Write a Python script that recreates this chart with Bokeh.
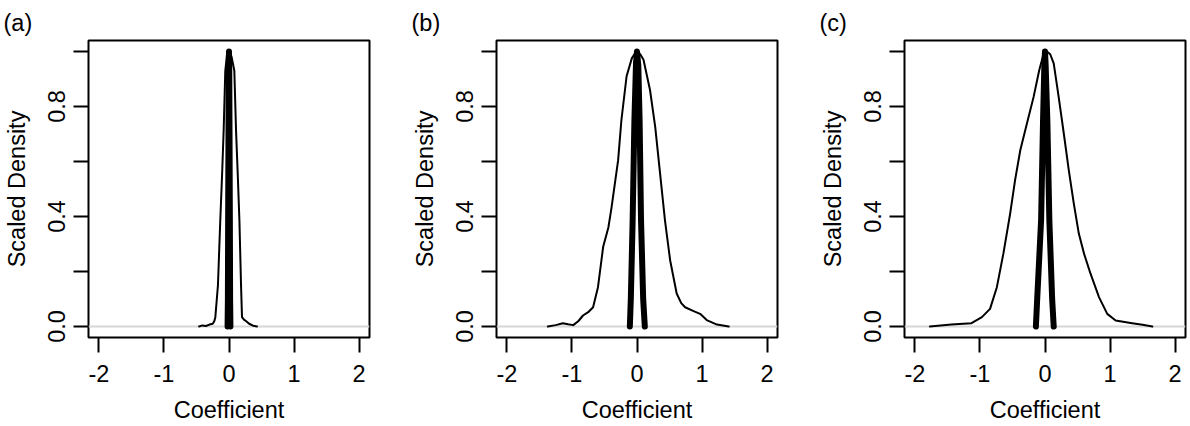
import math
from bokeh.plotting import figure
from bokeh.layouts import row
from bokeh.models import FixedTicker, Title, Span
from bokeh.embed import file_html
from bokeh.resources import INLINE

# ---- data ----
panel_labels = ["(a)", "(b)", "(c)"]
x_ticks = [-2, -1, 0, 1, 2]
y_ticks = [0, 0.2, 0.4, 0.6, 0.8, 1]
y_tick_labels = {0: "0.0", 0.2: "", 0.4: "0.4", 0.6: "", 0.8: "0.8", 1: ""}
x_tick_labels = {-2: "-2", -1: "-1", 0: "0", 1: "1", 2: "2"}

# panel (a)
a_wide_x = [-0.46, -0.41, -0.355, -0.30, -0.25, -0.225, -0.21, -0.17, -0.134, -0.105, -0.082, -0.057,
            -0.03, 0.01, 0.04, 0.082, 0.108, 0.135, 0.16, 0.185, 0.2, 0.23, 0.26, 0.31, 0.37, 0.43]
a_wide_y = [0, 0.004, 0.002, 0.007, 0.01, 0.02, 0.034, 0.15, 0.386, 0.56, 0.714, 0.93,
            0.99, 1.0, 0.98, 0.93, 0.714, 0.55, 0.386, 0.15, 0.034, 0.025, 0.02, 0.01, 0.003, 0]
a_narrow_x = [-0.022, -0.017, -0.013, -0.008, -0.004, 0, 0.004, 0.008, 0.013, 0.017, 0.022]
a_narrow_y = [0, 0.1, 0.4, 0.7, 0.93, 1.0, 0.93, 0.7, 0.4, 0.1, 0]

# panel (b)
b_wide_x = [-1.37, -1.25, -1.14, -1.06, -0.98, -0.9, -0.83, -0.75, -0.675, -0.6, -0.52, -0.44, -0.39,
            -0.29, -0.24, -0.16, -0.08, -0.04, 0.0, 0.05, 0.1, 0.2, 0.28, 0.355, 0.43, 0.51, 0.61, 0.68,
            0.74, 0.87, 0.97, 1.08, 1.23, 1.41]
b_wide_y = [0, 0.005, 0.012, 0.008, 0.005, 0.02, 0.04, 0.052, 0.07, 0.143, 0.29, 0.36, 0.435,
            0.605, 0.75, 0.91, 0.975, 0.99, 1.0, 0.99, 0.97, 0.86, 0.726, 0.556, 0.386, 0.24, 0.12, 0.085,
            0.07, 0.056, 0.046, 0.022, 0.007, 0]
b_narrow_x = [-0.11, -0.095, -0.067, -0.04, -0.015, 0, 0.02, 0.04, 0.062, 0.095, 0.12]
b_narrow_y = [0, 0.1, 0.386, 0.75, 0.96, 1.0, 0.95, 0.75, 0.386, 0.1, 0]

# panel (c)
c_wide_x = [-1.77, -1.44, -1.13, -0.97, -0.845, -0.74, -0.64, -0.536, -0.46, -0.38, -0.278, -0.175,
            -0.088, -0.02, 0.03, 0.08, 0.134, 0.21, 0.29, 0.366, 0.443, 0.52, 0.6, 0.70, 0.83, 0.957,
            1.086, 1.34, 1.5, 1.65]
c_wide_y = [0, 0.007, 0.012, 0.034, 0.064, 0.143, 0.265, 0.41, 0.532, 0.641, 0.738, 0.835,
            0.933, 0.993, 1.0, 0.99, 0.957, 0.835, 0.70, 0.568, 0.447, 0.338, 0.265, 0.192, 0.107, 0.046,
            0.022, 0.012, 0.006, 0]
c_narrow_x = [-0.14, -0.12, -0.06, -0.03, -0.01, 0, 0.01, 0.036, 0.067, 0.11, 0.134]
c_narrow_y = [0, 0.1, 0.386, 0.75, 0.95, 1.0, 0.95, 0.75, 0.386, 0.1, 0]

x_label = "Coefficient"
y_label = "Scaled Density"

wide_x = [a_wide_x, b_wide_x, c_wide_x]
wide_y = [a_wide_y, b_wide_y, c_wide_y]
narrow_x = [a_narrow_x, b_narrow_x, c_narrow_x]
narrow_y = [a_narrow_y, b_narrow_y, c_narrow_y]

FONT = "Liberation Sans"
FS = "23.5px"

figs = []
for i in range(3):
    p = figure(frame_width=281, frame_height=297,
               x_range=(-2.16, 2.16), y_range=(-0.04, 1.04),
               output_backend="svg", toolbar_location=None,
               min_border_left=88, min_border_right=(39 if i < 2 else 2),
               min_border_top=40, min_border_bottom=86)
    t = Title(text=panel_labels[i], align="left", offset=-85, standoff=10,
              text_font=FONT, text_font_size=FS, text_font_style="normal",
              text_color="black", vertical_align="bottom")
    p.add_layout(t, "above")
    p.xgrid.visible = False
    p.ygrid.visible = False
    p.outline_line_color = "black"
    p.outline_line_width = 2
    p.background_fill_color = "white"
    p.border_fill_color = "white"

    for ax in (p.xaxis[0], p.yaxis[0]):
        ax.axis_line_color = None
        ax.major_tick_line_color = "black"
        ax.major_tick_line_width = 2
        ax.major_tick_out = 15
        ax.major_tick_in = 0
        ax.minor_tick_line_color = None
        ax.major_label_text_font = FONT
        ax.major_label_text_font_size = FS
        ax.major_label_text_color = "black"
        ax.axis_label_text_font = FONT
        ax.axis_label_text_font_size = FS
        ax.axis_label_text_font_style = "normal"
        ax.axis_label_text_color = "black"

    p.xaxis.ticker = FixedTicker(ticks=x_ticks)
    p.xaxis.major_label_overrides = x_tick_labels
    p.xaxis.major_label_standoff = 12
    p.xaxis.axis_label = x_label
    p.xaxis.axis_label_standoff = 12

    p.yaxis.ticker = FixedTicker(ticks=y_ticks)
    p.yaxis.major_label_overrides = y_tick_labels
    p.yaxis.major_label_orientation = "vertical"
    p.yaxis.major_label_standoff = 9
    p.yaxis.axis_label = y_label
    p.yaxis.axis_label_standoff = 15

    p.add_layout(Span(location=0, dimension="width", line_color="#d6d6d6",
                      line_width=2, level="underlay"))

    p.line(wide_x[i], wide_y[i], line_color="black", line_width=2,
           line_join="round", line_cap="round")
    p.line(narrow_x[i], narrow_y[i], line_color="black", line_width=6,
           line_join="round", line_cap="round")
    figs.append(p)

layout = row(*figs, spacing=0)
open("out.html", "w").write(file_html(layout, INLINE))
